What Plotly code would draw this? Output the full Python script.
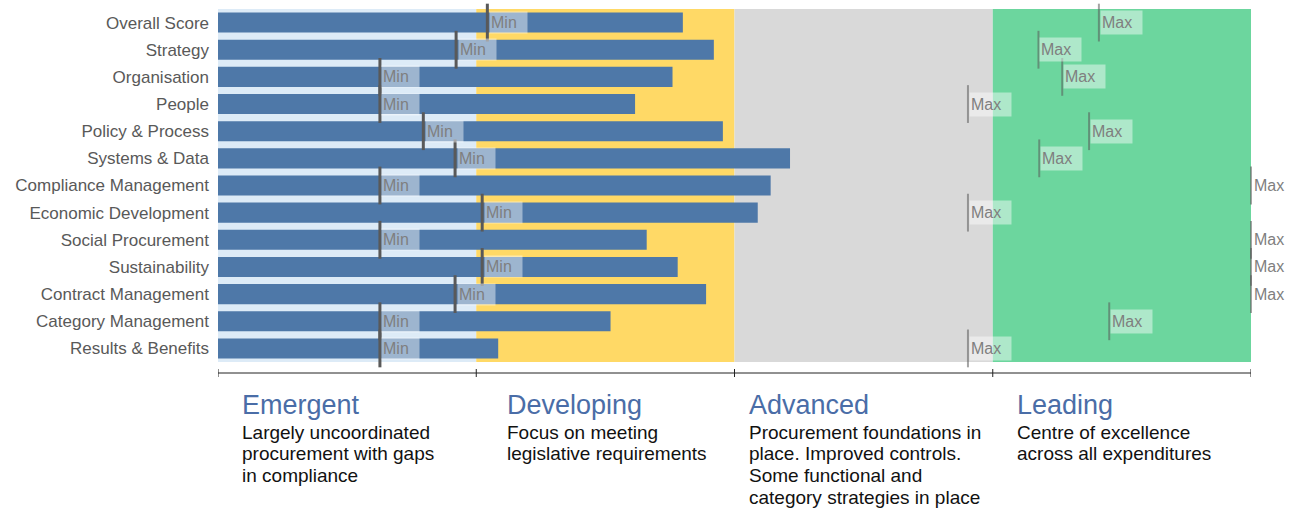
import plotly.graph_objects as go

categories = ["Overall Score", "Strategy", "Organisation", "People", "Policy & Process",
              "Systems & Data", "Compliance Management", "Economic Development",
              "Social Procurement", "Sustainability", "Contract Management",
              "Category Management", "Results & Benefits"]
scores = [1.80, 1.92, 1.76, 1.615, 1.955, 2.215, 2.14, 2.09, 1.66, 1.78, 1.89, 1.52, 1.085]
mins = [1.043, 0.922, 0.627, 0.627, 0.795, 0.918, 0.627, 1.023, 0.627, 1.023, 0.918, 0.627, 0.627]
maxs = [3.411, 3.177, 3.269, 2.904, 3.373, 3.18, 4.0, 2.904, 4.0, 4.0, 4.0, 3.451, 2.904]

stage_names = ["Emergent", "Developing", "Advanced", "Leading"]
stage_desc = [
    ["Largely uncoordinated", "procurement with gaps", "in compliance"],
    ["Focus on meeting", "legislative requirements"],
    ["Procurement foundations in", "place. Improved controls.", "Some functional and", "category strategies in place"],
    ["Centre of excellence", "across all expenditures"],
]
stage_colors = ["#DDEBF7", "#FFD966", "#D9D9D9", "#6CD69E"]
label_shift = [22, 29, 12, 22]

FONT = "Arial, Liberation Sans, sans-serif"
PLOT_H = 353.0

fig = go.Figure()

fig.add_trace(go.Bar(x=scores, y=categories, orientation="h", width=0.74,
                     marker=dict(color="#4E78A8", line=dict(width=0)),
                     hoverinfo="x+y", showlegend=False))

fig.add_trace(go.Scatter(x=mins, y=categories, mode="markers", cliponaxis=False,
                         marker=dict(symbol="line-ns", size=27,
                                     line=dict(width=3, color="#595959")),
                         showlegend=False, hoverinfo="x"))
fig.add_trace(go.Scatter(x=maxs, y=categories, mode="markers", cliponaxis=False,
                         marker=dict(symbol="line-ns", size=27,
                                     line=dict(width=2, color="rgba(90,90,90,0.55)")),
                         showlegend=False, hoverinfo="x"))

shapes = []
for i, c in enumerate(stage_colors):
    shapes.append(dict(type="rect", xref="x", yref="paper", x0=i, x1=i + 1, y0=0, y1=1,
                       fillcolor=c, line=dict(width=0), layer="below"))
# axis line with ticks
ay = -11 / PLOT_H
shapes.append(dict(type="line", xref="x", yref="paper", x0=0, x1=len(stage_names), y0=ay, y1=ay,
                   line=dict(color="#222", width=1)))
for i in range(len(stage_names) + 1):
    shapes.append(dict(type="line", xref="x", yref="paper", x0=i, x1=i,
                       y0=ay + 4 / PLOT_H, y1=ay - 4 / PLOT_H, line=dict(color="#222", width=1)))

annotations = []
for c, v in zip(categories, mins):
    annotations.append(dict(x=v, y=c, xref="x", yref="y", text="Min", showarrow=False,
                            xanchor="left", yanchor="middle", xshift=1.5, align="left",
                            width=35, height=19, borderpad=1,
                            bgcolor="rgba(255,255,255,0.45)",
                            font=dict(family=FONT, size=16, color="#7f7f7f")))
for c, v in zip(categories, maxs):
    annotations.append(dict(x=v, y=c, xref="x", yref="y", text="Max", showarrow=False,
                            xanchor="left", yanchor="middle", xshift=1, align="left",
                            width=39, height=21, borderpad=1,
                            bgcolor="rgba(255,255,255,0.45)",
                            font=dict(family=FONT, size=16, color="#7f7f7f")))

for i, (n, d) in enumerate(zip(stage_names, stage_desc)):
    annotations.append(dict(x=i, y=(362 - 405) / PLOT_H, xref="x", yref="paper", text=n,
                            showarrow=False, xanchor="left", yanchor="middle",
                            xshift=label_shift[i], align="left",
                            font=dict(family=FONT, size=27, color="#4A6DA7")))
    for k, line in enumerate(d):
        annotations.append(dict(x=i, y=(362 - (432 + 21.7 * k)) / PLOT_H, xref="x", yref="paper",
                                text=line, showarrow=False, xanchor="left",
                                yanchor="middle", xshift=label_shift[i], align="left",
                                font=dict(family=FONT, size=19, color="#111111")))

fig.update_layout(
    width=1298, height=508,
    margin=dict(l=218, r=47, t=9, b=146),
    paper_bgcolor="white", plot_bgcolor="white",
    xaxis=dict(range=[0, 4], showgrid=False, zeroline=False, showticklabels=False,
               showline=False, ticks=""),
    yaxis=dict(categoryorder="array", categoryarray=categories,
               range=[len(categories) - 0.5, -0.5], autorange=False,
               showgrid=False, zeroline=False, ticks="", ticklabelstandoff=8,
               tickfont=dict(family=FONT, size=17, color="#595959")),
    shapes=shapes, annotations=annotations, bargap=0.26,
)

fig.write_html("out.html")
